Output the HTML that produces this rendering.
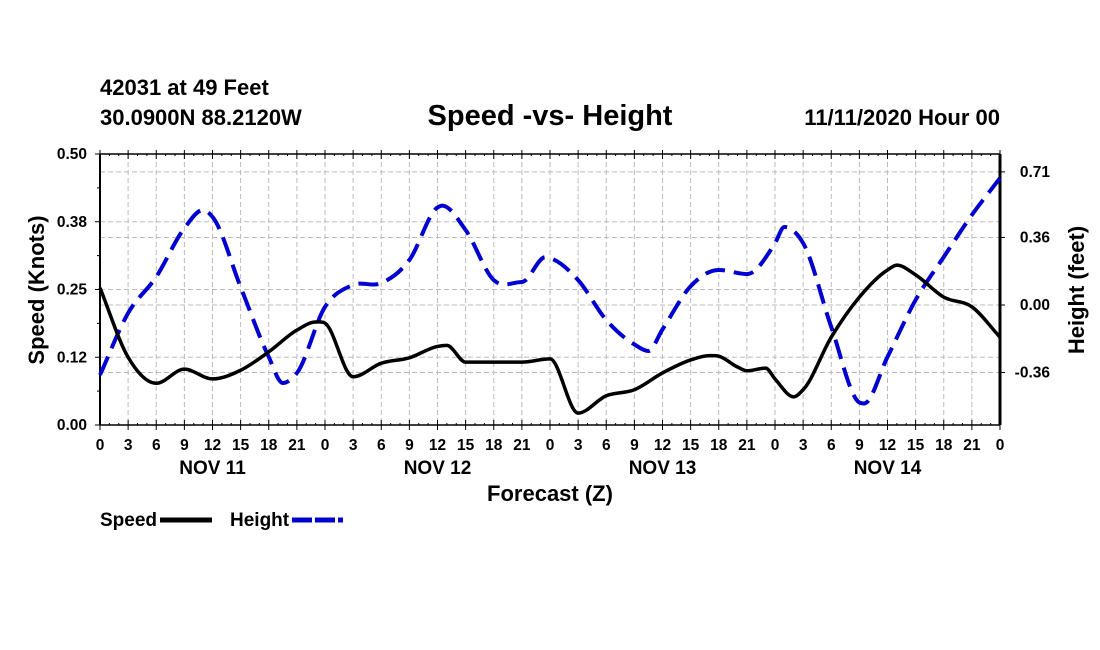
<!DOCTYPE html>
<html><head><meta charset="utf-8"><style>
body{margin:0;background:#fff;}
svg{display:block;font-family:"Liberation Sans",Arial,sans-serif;font-weight:bold;}
</style></head><body>
<svg id="chart" width="1100" height="650" viewBox="0 0 1100 650">
<text x="100" y="95" font-size="22">42031 at 49 Feet</text>
<text x="100" y="125" font-size="22">30.0900N 88.2120W</text>
<text x="550" y="125" font-size="29" text-anchor="middle">Speed -vs- Height</text>
<text x="1000" y="125" font-size="22" text-anchor="end">11/11/2020 Hour 00</text>
<g id="grid"></g>
<g id="axes"></g>
<g id="series"></g>
<text transform="translate(44,290) rotate(-90)" font-size="22" text-anchor="middle">Speed (Knots)</text>
<text transform="translate(1084,290) rotate(-90)" font-size="22" text-anchor="middle">Height (feet)</text>
<text x="550" y="501" font-size="22" text-anchor="middle">Forecast (Z)</text>
<g>
<text x="100" y="526" font-size="19">Speed</text>
<line x1="160" y1="520" x2="212" y2="520" stroke="#000" stroke-width="5"/>
<text x="230" y="526" font-size="19">Height</text>
<line x1="292" y1="520" x2="343" y2="520" stroke="#00c" stroke-width="5" stroke-dasharray="20 3"/>
</g>
</svg>
<script>
const speedHours=[0,3,6,9,12,15,18,21,23,24,27,30,33,36,37,39,42,45,48,51,54,57,60,63,65,66,68,69,71,72,74,75,78,81,84,85,87,90,93,96];
const speedValues=[0.253,0.125,0.077,0.103,0.085,0.101,0.135,0.175,0.19,0.188,0.089,0.114,0.124,0.145,0.147,0.116,0.116,0.116,0.122,0.022,0.054,0.065,0.096,0.12,0.128,0.127,0.107,0.1,0.105,0.085,0.052,0.065,0.162,0.236,0.286,0.295,0.277,0.236,0.218,0.162];
const heightHours=[0,3,6,9,11,12,15,18,19.5,21,24,27,30,33,36,36.5,39,42,45,47.5,48,51,54,57,58.5,60,63,66,69,72,73,75,78,81,81.5,84,87,90,93,96];
const heightValues=[-0.373,-0.043,0.15,0.41,0.507,0.47,0.096,-0.277,-0.416,-0.363,-0.01,0.107,0.117,0.24,0.52,0.53,0.4,0.133,0.123,0.255,0.25,0.133,-0.08,-0.21,-0.245,-0.13,0.1,0.187,0.165,0.33,0.416,0.33,-0.117,-0.52,-0.525,-0.277,0.027,0.256,0.48,0.677];
const hourTickLabels=["0","3","6","9","12","15","18","21"];
const dayLabels=["NOV 11","NOV 12","NOV 13","NOV 14"];
const speedTicks=[0,0.125,0.25,0.375,0.5];
const speedTickLabels=["0.00","0.12","0.25","0.38","0.50"];
const heightTicks=[-0.36,0,0.36,0.71];
const heightTickLabels=["-0.36","0.00","0.36","0.71"];

const NS="http://www.w3.org/2000/svg";
const X0=100,X1=1000,Y0=425,Y1=154;
const xs=h=>X0+(h/96)*(X1-X0);
const yS=v=>Y0-(v/0.5)*(Y0-Y1);
const yH=v=>305-v/0.36*67.5;
function mk(tag,attrs,parent){const e=document.createElementNS(NS,tag);for(const k in attrs)e.setAttribute(k,attrs[k]);parent.appendChild(e);return e;}
const grid=document.getElementById('grid'),axes=document.getElementById('axes'),series=document.getElementById('series');
for(let h=3;h<96;h+=3){const l=mk('line',{x1:xs(h),x2:xs(h),y1:Y1,y2:Y0,stroke:'#bbb','stroke-width':1,'stroke-dasharray':'5 3'},grid);

}
const hys=speedTicks.slice(1,4).map(yS).concat(heightTicks.map(yH));
hys.forEach(y=>{const l=mk('line',{x1:X0,x2:X1,y1:y,y2:y,stroke:'#bbb','stroke-width':1,'stroke-dasharray':'5 3'},grid);

});
mk('line',{x1:X0,x2:X1,y1:Y1,y2:Y1,stroke:'#000','stroke-width':1.5},axes);
mk('line',{x1:X0,x2:X1,y1:Y0,y2:Y0,stroke:'#000','stroke-width':1.5},axes);
mk('line',{x1:X0,x2:X0,y1:Y1,y2:Y0,stroke:'#000','stroke-width':2},axes);
mk('line',{x1:X1,x2:X1,y1:Y1,y2:Y0,stroke:'#000','stroke-width':3},axes);
for(let h=0;h<=96;h++){const big=h%3===0;
mk('line',{x1:xs(h),x2:xs(h),y1:Y1-(big?4:0),y2:Y1+(big?5:2),stroke:'#000','stroke-width':1},axes);
mk('line',{x1:xs(h),x2:xs(h),y1:Y0-(big?5:2),y2:Y0+(big?5:0),stroke:'#000','stroke-width':1},axes);
if(big){const t=mk('text',{x:xs(h),y:450,'font-size':15.5,'text-anchor':'middle'},axes);
t.textContent=h===96?"0":hourTickLabels[(h/3)%8];

}}
dayLabels.forEach((d,i)=>{const t=mk('text',{x:xs(i*24+12),y:474,'font-size':19,'text-anchor':'middle'},axes);t.textContent=d;

});
speedTicks.forEach((v,i)=>{const y=yS(v);mk('line',{x1:X0-5,x2:X0,y1:y,y2:y,stroke:'#000'},axes);
const t=mk('text',{x:X0-13,y:y+5,'font-size':15.5,'text-anchor':'end'},axes);t.textContent=speedTickLabels[i];

});
for(let v=0.0625;v<0.5;v+=0.125){const y=yS(v);mk('line',{x1:X0-3,x2:X0,y1:y,y2:y,stroke:'#000'},axes);}
heightTicks.forEach((v,i)=>{const y=yH(v);mk('line',{x1:X1,x2:X1+5,y1:y,y2:y,stroke:'#000'},axes);
const t=mk('text',{x:1050,y:y+5,'font-size':15.5,'text-anchor':'end'},axes);t.textContent=heightTickLabels[i];

});
function slopes(pts){const n=pts.length,m=[];
for(let i=0;i<n;i++){
 if(i===0){m.push((pts[1][1]-pts[0][1])/(pts[1][0]-pts[0][0]));continue;}
 if(i===n-1){m.push((pts[i][1]-pts[i-1][1])/(pts[i][0]-pts[i-1][0]));continue;}
 const d0=(pts[i][1]-pts[i-1][1])/(pts[i][0]-pts[i-1][0]),d1=(pts[i+1][1]-pts[i][1])/(pts[i+1][0]-pts[i][0]);
 if(d0*d1<=0){m.push(0);}else{const w0=pts[i+1][0]-pts[i][0],w1=pts[i][0]-pts[i-1][0];m.push((w0*d0+w1*d1)/(w0+w1));}
}return m;}
function smooth(pts){const m=slopes(pts);let d=`M${pts[0][0]},${pts[0][1]}`;
for(let i=0;i<pts.length-1;i++){const p1=pts[i],p2=pts[i+1],dx=p2[0]-p1[0];
d+=` C${p1[0]+dx/3},${p1[1]+m[i]*dx/3} ${p2[0]-dx/3},${p2[1]-m[i+1]*dx/3} ${p2[0]},${p2[1]}`;}return d;}
const hp=mk('path',{d:smooth(heightHours.map((h,i)=>[xs(h),yH(heightValues[i])])),fill:'none',stroke:'#0000d0','stroke-width':4,'stroke-dasharray':'20 9'},series);


const sp=mk('path',{d:smooth(speedHours.map((h,i)=>[xs(h),yS(speedValues[i])])),fill:'none',stroke:'#000','stroke-width':3.5},series);


</script>
</body></html>
